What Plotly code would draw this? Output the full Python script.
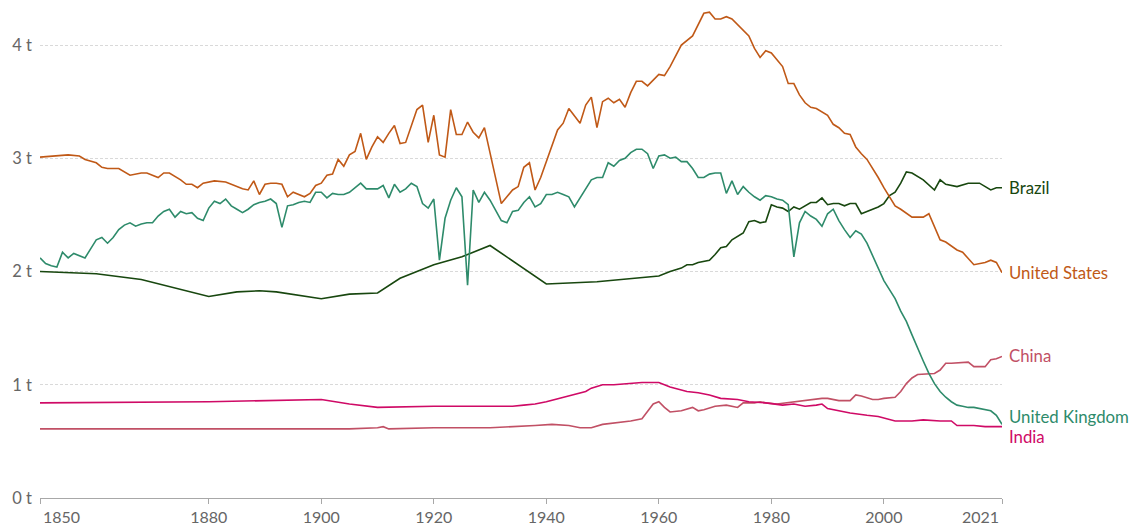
import plotly.graph_objects as go

# ---------------- data (tonnes) ----------------
us_years = [1850,1852,1855,1857,1858,1860,1861,1862,1864,1866,1868,1869,1871,1872,1873,1875,1876,1877,1878,1879,
            1880,1881,1883,1885,1886,1887,1888,1889,1890,1891,1892,1893,1894,1895,1896,1897,1898,1899,
            1900,1901,1902,1903,1904,1905,1906,1907,1908,1909,1910,1911,1912,1913,1914,1915,1917,1918,1919,
            1920,1921,1922,1923,1924,1925,1926,1927,1928,1929,1932,1934,1935,1936,1937,1938,1939,
            1942,1943,1944,1946,1947,1948,1949,1950,1951,1952,1953,1954,1955,1956,1957,1958,1960,1961,1962,1963,1964,
            1966,1968,1969,1970,1971,1972,1973,1974,1976,1977,1978,1979,1980,1981,1982,1983,1984,1985,1986,1987,1988,
            1990,1991,1992,1993,1994,1995,1996,1997,1999,2000,2002,2003,2005,2007,2008,2010,2011,2013,2014,2015,2016,
            2018,2019,2020,2021]
us_values = [3.01,3.02,3.03,3.02,2.99,2.96,2.92,2.91,2.91,2.85,2.87,2.87,2.83,2.87,2.87,2.81,2.77,2.77,2.74,2.78,
             2.79,2.80,2.79,2.75,2.73,2.72,2.80,2.68,2.77,2.78,2.78,2.77,2.66,2.70,2.68,2.66,2.69,2.76,
             2.78,2.85,2.86,2.99,2.93,3.03,3.06,3.22,2.99,3.10,3.19,3.14,3.22,3.29,3.13,3.14,3.43,3.47,3.14,
             3.38,3.03,3.01,3.43,3.21,3.21,3.32,3.23,3.18,3.27,2.60,2.72,2.75,2.92,2.96,2.72,2.83,
             3.25,3.31,3.44,3.31,3.47,3.54,3.27,3.50,3.53,3.49,3.52,3.45,3.58,3.68,3.68,3.64,3.74,3.73,3.81,3.91,4.00,
             4.08,4.28,4.29,4.23,4.23,4.25,4.23,4.18,4.08,3.97,3.89,3.95,3.93,3.87,3.81,3.66,3.66,3.56,3.49,3.45,3.44,
             3.38,3.30,3.27,3.22,3.21,3.10,3.04,2.99,2.83,2.74,2.58,2.55,2.48,2.48,2.51,2.28,2.26,2.19,2.17,2.11,2.06,
             2.08,2.10,2.08,1.99]

uk_years = list(range(1850, 2022))
uk_values = [2.12,2.07,2.05,2.04,2.17,2.12,2.16,2.14,2.12,2.20,
             2.28,2.30,2.25,2.30,2.37,2.41,2.43,2.40,2.42,2.43,
             2.43,2.49,2.53,2.55,2.48,2.53,2.51,2.52,2.47,2.45,
             2.56,2.62,2.60,2.64,2.58,2.55,2.52,2.55,2.59,2.61,
             2.62,2.64,2.60,2.39,2.58,2.59,2.61,2.62,2.61,2.70,
             2.70,2.65,2.69,2.68,2.68,2.70,2.74,2.78,2.73,2.73,
             2.73,2.76,2.65,2.77,2.70,2.73,2.78,2.75,2.60,2.56,
             2.64,2.10,2.47,2.63,2.74,2.66,1.88,2.72,2.61,2.70,
             2.63,2.54,2.45,2.43,2.53,2.54,2.61,2.66,2.57,2.60,
             2.68,2.68,2.70,2.68,2.66,2.57,2.65,2.74,2.81,2.83,
             2.83,2.96,2.93,2.98,3.00,3.05,3.08,3.08,3.04,2.91,
             3.02,3.03,3.00,3.01,2.97,2.97,2.91,2.83,2.83,2.86,
             2.87,2.87,2.69,2.80,2.68,2.75,2.70,2.66,2.63,2.67,
             2.66,2.64,2.63,2.59,2.13,2.43,2.53,2.49,2.46,2.40,
             2.51,2.55,2.45,2.37,2.30,2.36,2.33,2.25,2.14,2.03,
             1.92,1.84,1.76,1.65,1.56,1.44,1.32,1.21,1.10,1.01,
             0.94,0.89,0.85,0.82,0.81,0.80,0.80,0.79,0.78,0.77,
             0.73,0.65]

brazil_years = [1850,1860,1868,1873,1880,1885,1889,1892,1896,1900,1905,1910,1914,1920,1925,1930,1940,1949,
                1960,1961,1962,1964,1965,1966,1967,1969,1970,1971,1972,1973,1975,1976,1977,1978,1979,
                1980,1981,1982,1983,1984,1985,1987,1988,1989,1990,1991,1992,1993,1994,1995,1996,1998,1999,
                2000,2001,2002,2003,2004,2005,2007,2009,2010,2011,2013,2015,2017,2019,2020,2021]
brazil_values = [2.00,1.98,1.93,1.87,1.78,1.82,1.83,1.82,1.79,1.76,1.80,1.81,1.94,2.06,2.13,2.23,1.89,1.91,
                 1.96,1.98,2.00,2.03,2.06,2.06,2.08,2.10,2.15,2.21,2.22,2.28,2.34,2.44,2.45,2.43,2.44,
                 2.59,2.57,2.56,2.53,2.57,2.55,2.61,2.61,2.65,2.59,2.60,2.60,2.58,2.60,2.60,2.51,2.55,2.57,
                 2.60,2.67,2.70,2.78,2.88,2.87,2.81,2.72,2.81,2.77,2.75,2.78,2.78,2.72,2.74,2.74]

china_years = [1850,1880,1900,1905,1910,1911,1912,1920,1930,1935,1938,1941,1944,1946,1948,1950,1952,1955,1957,
               1958,1959,1960,1961,1962,1964,1966,1967,1968,1970,1972,1974,1975,1977,1978,1979,1981,1984,
               1987,1989,1990,1992,1994,1995,1996,1998,1999,2000,2002,2003,2004,2005,2006,2008,2009,2010,
               2011,2012,2015,2016,2018,2019,2020,2021]
china_values = [0.61,0.61,0.61,0.61,0.62,0.63,0.61,0.62,0.62,0.63,0.64,0.65,0.64,0.62,0.62,0.65,0.66,0.68,0.70,
                0.76,0.83,0.85,0.80,0.76,0.77,0.80,0.77,0.78,0.81,0.82,0.80,0.84,0.84,0.85,0.84,0.83,0.85,
                0.87,0.88,0.88,0.86,0.86,0.91,0.90,0.87,0.87,0.88,0.89,0.94,1.01,1.06,1.09,1.10,1.10,1.13,
                1.19,1.19,1.20,1.16,1.16,1.22,1.23,1.25]

india_years = [1850,1880,1900,1905,1910,1920,1928,1934,1936,1938,1940,1943,1947,1948,1950,1952,1957,1960,1962,
               1965,1967,1969,1971,1974,1976,1979,1982,1984,1986,1988,1989,1990,1992,1994,1997,1999,2002,
               2005,2007,2010,2012,2013,2016,2018,2021]
india_values = [0.84,0.85,0.87,0.83,0.80,0.81,0.81,0.81,0.82,0.83,0.85,0.89,0.94,0.97,1.00,1.00,1.02,1.02,0.98,
                0.94,0.93,0.91,0.88,0.87,0.85,0.84,0.82,0.83,0.81,0.82,0.83,0.79,0.77,0.75,0.73,0.72,0.68,
                0.68,0.69,0.68,0.68,0.64,0.64,0.63,0.63]

series = [
    ("Brazil", brazil_years, brazil_values, "#18470F", 2.74),
    ("United States", us_years, us_values, "#C05917", 1.99),
    ("China", china_years, china_values, "#C15065", 1.26),
    ("United Kingdom", uk_years, uk_values, "#2E8B6B", 0.72),
    ("India", india_years, india_values, "#CF0A66", 0.54),
]

tick_years = [1850, 1880, 1900, 1920, 1940, 1960, 1980, 2000, 2021]
y_ticks = [0, 1, 2, 3, 4]
y_tick_text = ["0 t", "1 t", "2 t", "3 t", "4 t"]

fig = go.Figure()
for name, xs, ys, color, label_y in series:
    fig.add_trace(go.Scatter(x=xs, y=ys, mode="lines", name=name,
                             line=dict(color=color, width=1.6), showlegend=False))
    fig.add_annotation(x=2021, y=label_y, xref="x", yref="y", text=name, showarrow=False,
                       xanchor="left", yanchor="middle", xshift=5,
                       font=dict(family="Lato", size=16.8, color=color))

# first and last year labels are aligned to the axis ends (left / right)
inner_text = [str(t) if t not in (tick_years[0], tick_years[-1]) else "" for t in tick_years]
for yr, anchor, shift in [(tick_years[0], "left", 1), (tick_years[-1], "right", -1)]:
    fig.add_annotation(x=yr, y=0, xref="x", yref="y", text=str(yr), showarrow=False,
                       xanchor=anchor, yanchor="top", xshift=shift, yshift=-7,
                       font=dict(family="Lato", size=16, color="#666666"))

fig.update_layout(
    width=1134, height=525,
    margin=dict(l=40, r=132, t=8, b=27, autoexpand=False),
    paper_bgcolor="white", plot_bgcolor="white",
    font=dict(family="Lato", size=14, color="#666666"),
)
fig.update_xaxes(range=[1850, 2021], tickvals=tick_years, ticktext=inner_text,
                 showgrid=False, zeroline=False, showline=True, linecolor="#a8a8a8", linewidth=1,
                 ticks="outside", ticklen=5, tickcolor="#a8a8a8",
                 tickfont=dict(family="Lato", size=16, color="#666666"))
fig.update_yaxes(range=[0, 4.327], tickvals=y_ticks, ticktext=y_tick_text,
                 showgrid=True, gridcolor="#d9d9d9", griddash="3px,2px", gridwidth=1,
                 zeroline=False, showline=False, ticks="", ticklabelstandoff=7,
                 tickfont=dict(family="Lato", size=16.5, color="#666666"))

fig.write_html(
    "out.html",
    config={"displayModeBar": False},
    post_script="document.body.style.margin='0';document.body.style.overflow='hidden';",
)
